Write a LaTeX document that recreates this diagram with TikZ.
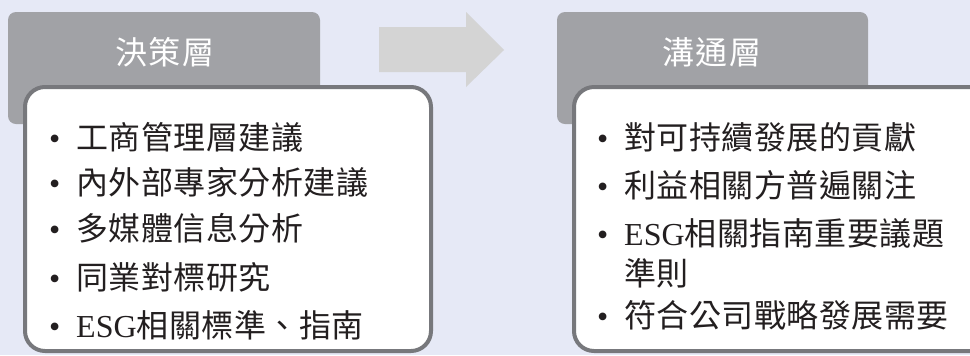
\documentclass[tikz,border=0pt]{standalone}
\usepackage{fontspec}
\setmainfont{Liberation Serif}
\newfontfamily\cjk[LetterSpace=1.5]{Noto Sans CJK TC}
\newfontfamily\cjkhead[LetterSpace=6]{Noto Sans CJK TC}
\usepackage{xcolor}
\usetikzlibrary{positioning}

\definecolor{bgcol}{HTML}{E6E9F6}
\definecolor{tabgray}{HTML}{A1A2A6}
\definecolor{rimgray}{HTML}{77787C}
\definecolor{arrowgray}{HTML}{D4D4D4}
\definecolor{inkcol}{HTML}{231F20}

\newcommand{\itembul}{\llap{{\rmfamily •}\hspace{12pt}}}

\tikzset{
  tab/.style={fill=tabgray, rounded corners=6pt},
  card/.style={fill=white, draw=rimgray, line width=3pt, rounded corners=15pt},
  title/.style={text=white, font=\cjkhead\fontsize{24}{26}\selectfont},
  item/.style={anchor=west, text=inkcol, inner sep=0pt, align=left,
    font=\cjk\fontsize{24}{30}\selectfont},
}

\begin{document}
\begin{tikzpicture}[x=0.75pt, y=-0.75pt]
  % Background
  \fill[bgcol] (0,0) rectangle (970,355);
  \useasboundingbox (0,0) rectangle (970,355);
  \clip (0,0) rectangle (970,355);

  % Left column: decision level
  \path[tab] (8,12) rectangle (320,124);
  \node[title] (decT) at (165,52) {決策層};
  \draw[card] (25,87) rectangle (431,351);
  \node[item] (dec1) at (76,137) {\itembul 工商管理層建議};
  \node[item] (dec2) at (76,182) {\itembul 內外部專家分析建議};
  \node[item] (dec3) at (76,228) {\itembul 多媒體信息分析};
  \node[item] (dec4) at (76,277) {\itembul 同業對標研究};
  \node[item] (dec5) at (76,325) {\itembul {\rmfamily ESG}相關標準、指南};

  % Arrow between the columns
  \fill[arrowgray] (379,27) -- (466,27) -- (466,12) -- (504,50)
    -- (466,87) -- (466,72) -- (379,72) -- cycle;

  % Right column: communication level
  \path[tab] (557,12) rectangle (868,124);
  \node[title] (comT) at (712,52) {溝通層};
  \draw[card] (574,87) rectangle (990,351);
  \node[item] (com1) at (624,137) {\itembul 對可持續發展的貢獻};
  \node[item] (com2) at (624,185) {\itembul 利益相關方普遍關注};
  \node[item] (com3) at (624,253) {\itembul {\rmfamily ESG}相關指南重要議題\\準則};
  \node[item] (com4) at (624,315) {\itembul 符合公司戰略發展需要};
\end{tikzpicture}
\end{document}
